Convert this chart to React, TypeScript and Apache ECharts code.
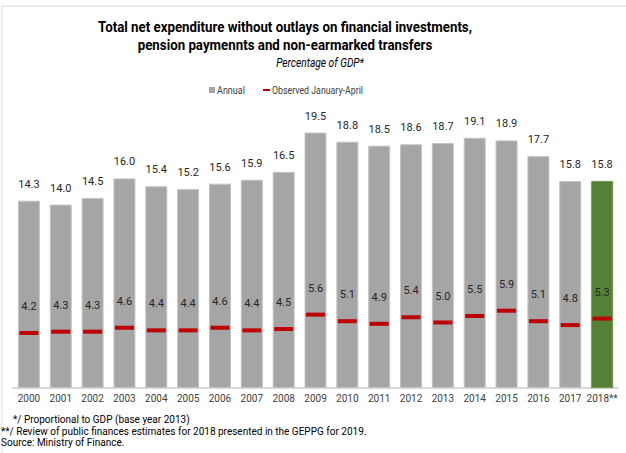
import React, { useEffect, useRef } from "react";
import * as echarts from "echarts";

const categories = ["2000","2001","2002","2003","2004","2005","2006","2007","2008","2009","2010","2011","2012","2013","2014","2015","2016","2017","2018**"];
const annual = [14.3,14.0,14.5,16.0,15.4,15.2,15.6,15.9,16.5,19.5,18.8,18.5,18.6,18.7,19.1,18.9,17.7,15.8,15.8];
const observed = [4.2,4.3,4.3,4.6,4.4,4.4,4.6,4.4,4.5,5.6,5.1,4.9,5.4,5.0,5.5,5.9,5.1,4.8,5.3];
const titleLines = ["Total net expenditure without outlays on financial investments,", "pension paymennts and non-earmarked transfers"];
const subtitle = "Percentage of GDP*";
const legendNames = ["Annual", "Observed January-April"];
const footnotes = [
  "*/ Proportional to GDP (base year 2013)",
  "**/ Review of public finances estimates for 2018 presented in the GEPPG for 2019.",
  "Source: Ministry of Finance.",
];

const FONT = "Roboto, 'Noto Sans', sans-serif";

export default function App() {
  const ref = useRef<HTMLDivElement>(null);
  useEffect(() => {
    if (!ref.current) return;
    const chart = echarts.init(ref.current, null, { renderer: "svg" });
    const last = annual.length - 1;
    const valueLabel = {
      show: true,
      position: "top",
      color: "#262626",
      fontSize: 11,
      fontFamily: FONT,
      textBorderWidth: 0,
      formatter: (p: any) => Number(p.value).toFixed(1),
    };
    chart.setOption({
      animation: false,
      backgroundColor: "#ffffff",
      textStyle: { fontFamily: FONT },
      grid: { left: 13, right: 8, top: 126, bottom: 65, containLabel: false },
      xAxis: {
        type: "category",
        data: categories,
        axisLine: { show: true, lineStyle: { color: "#d9d9d9", width: 2 } },
        axisTick: { show: false },
        axisLabel: { color: "#404040", fontSize: 10, margin: 5, interval: 0, fontFamily: FONT },
      },
      yAxis: {
        type: "value",
        min: 0,
        max: 20,
        show: false,
        splitLine: { show: false },
      },
      series: [
        {
          name: legendNames[0],
          type: "bar",
          barWidth: 22,
          data: annual.map((v, i) => ({
            value: v,
            itemStyle: i === last ? { color: "#548235", borderColor: "#6a9a48", borderWidth: 0.5 } : { color: "#a5a5a5", borderColor: "#c4c4c4", borderWidth: 1 },
          })),
          label: { ...valueLabel, distance: 11 },
          z: 2,
        },
        {
          name: legendNames[1],
          type: "scatter",
          symbol: "rect",
          symbolSize: [19, 4],
          itemStyle: { color: "#c00000", opacity: 1 },
          data: observed,
          label: { ...valueLabel, distance: 19 },
          z: 5,
        },
      ],
      graphic: [
        { type: "rect", shape: { x: 2, y: 6, width: 640, height: 470 }, style: { fill: "none", stroke: "#d9d9d9", lineWidth: 1 }, silent: true, z: -10 },
        { type: "text", x: 285, y: 27, scaleX: 0.95, style: { text: titleLines[0], font: `bold 14px ${FONT}`, fill: "#000000", textAlign: "center", textVerticalAlign: "middle" } },
        { type: "text", x: 285, y: 45, scaleX: 0.95, style: { text: titleLines[1], font: `bold 14px ${FONT}`, fill: "#000000", textAlign: "center", textVerticalAlign: "middle" } },
        { type: "text", x: 320, y: 63, scaleX: 0.85, style: { text: subtitle, font: `italic 12px ${FONT}`, fill: "#000000", textAlign: "center", textVerticalAlign: "middle" } },
        { type: "rect", shape: { x: 209, y: 87, width: 6, height: 6 }, style: { fill: "#a5a5a5" } },
        { type: "text", x: 217, y: 90, scaleX: 0.82, style: { text: legendNames[0], font: `11px ${FONT}`, fill: "#404040", textAlign: "left", textVerticalAlign: "middle" } },
        { type: "rect", shape: { x: 263, y: 89, width: 7, height: 2 }, style: { fill: "#c00000" } },
        { type: "text", x: 272, y: 90, scaleX: 0.8, style: { text: legendNames[1], font: `11px ${FONT}`, fill: "#404040", textAlign: "left", textVerticalAlign: "middle" } },
        { type: "text", x: 13, y: 419, style: { text: footnotes[0], font: `10px ${FONT}`, fill: "#000000", textAlign: "left", textVerticalAlign: "middle" } },
        { type: "text", x: 1, y: 431, style: { text: footnotes[1], font: `10px ${FONT}`, fill: "#000000", textAlign: "left", textVerticalAlign: "middle" } },
        { type: "text", x: 1, y: 442, style: { text: footnotes[2], font: `10px ${FONT}`, fill: "#000000", textAlign: "left", textVerticalAlign: "middle" } },
      ],
    });
    return () => chart.dispose();
  }, []);
  return (
    <div
      ref={ref}
      style={{ position: "fixed", left: 0, top: 0, width: 626, height: 453, background: "#fff" }}
    />
  );
}
